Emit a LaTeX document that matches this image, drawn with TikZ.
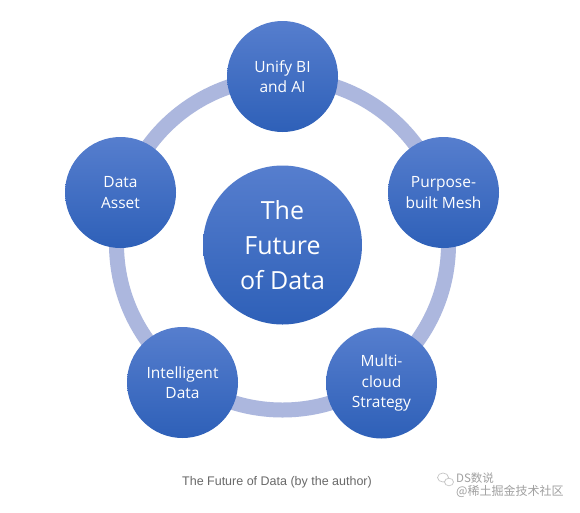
\documentclass[tikz,border=0pt]{standalone}
\usepackage{fontspec}
\setmainfont{Open Sans}
\newfontfamily\capfont{Liberation Sans}
\newfontfamily\cjkfont{Noto Sans CJK SC}
\usetikzlibrary{shapes.geometric}
\definecolor{ringcol}{RGB}{172,183,222}
\definecolor{disctop}{RGB}{86,126,206}
\definecolor{discbot}{RGB}{46,96,184}
\definecolor{capgray}{RGB}{105,105,105}
\definecolor{wmgray}{RGB}{160,160,160}
\tikzset{
  disc/.style={circle, minimum size=111pt, inner sep=0pt, top color=disctop, bottom color=discbot,
    text=white, align=center, font=\fontsize{15.5}{20.5}\selectfont},
  bigdisc/.style={disc, minimum size=159pt, font=\fontsize{25}{35}\selectfont},
  ringline/.style={draw=ringcol, line width=15pt},
}
\begin{document}
\begin{tikzpicture}[x=1pt,y=-1pt]
\useasboundingbox[fill=white] (0,0) rectangle (580,512);
\coordinate (ringc) at (282.5,244);
\draw[ringline] (ringc) circle[radius=166];
\node[bigdisc] (core) at (282.5,245) {The\\Future\\of Data};
\node[disc] (unify) at (282.5,76.5) {Unify BI\\and AI};
\node[disc] (asset) at (120.5,192.5) {Data\\Asset};
\node[disc] (mesh) at (443.5,192.5) {Purpose-\\built Mesh};
\node[disc] (intel) at (182.5,382.5) {Intelligent\\Data};
\node[disc] (multi) at (381.5,383) {Multi-\\cloud\\Strategy};
\node[font=\capfont\fontsize{12.5}{15}\selectfont, text=capgray] (caption) at (277,482.5) {The Future of Data (by the author)};
\node[font=\cjkfont\fontsize{11.5}{12}\selectfont, text=wmgray, anchor=west, inner sep=0pt] (wm1) at (456,478) {DS数说};
\node[font=\cjkfont\fontsize{12}{13}\selectfont, text=wmgray, anchor=west, inner sep=0pt] (wm2) at (456,491) {@稀土掘金技术社区};
\draw[wmgray!60, line width=0.7pt] (443,477.5) ellipse[x radius=5.5, y radius=4.5];
\draw[wmgray!60, line width=0.7pt, fill=white] (449,482) ellipse[x radius=4.5, y radius=3.8];
\end{tikzpicture}
\end{document}
